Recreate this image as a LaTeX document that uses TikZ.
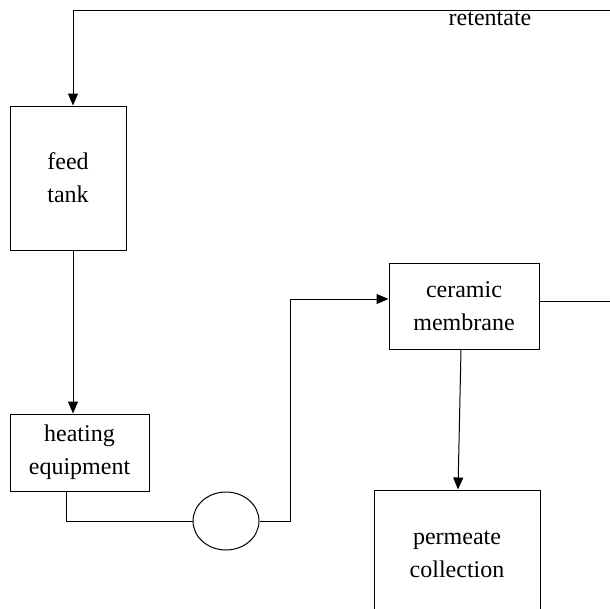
\documentclass[tikz,border=0pt]{standalone}
\usepackage{fontspec}
\setmainfont{Liberation Serif}
\usetikzlibrary{calc}
\usetikzlibrary{shapes.geometric}
\usetikzlibrary{arrows.meta}
\tikzset{unitbox/.style={shape=rectangle,draw=black,line width=1pt,align=center,inner sep=0,font=\fontsize{24}{33}\selectfont}}
\tikzset{flow/.style={line width=1pt,-{Triangle[length=12pt,width=10pt]}}}
\tikzset{pipe/.style={line width=1pt}}

\begin{document}
\begin{tikzpicture}[x=1pt,y=-1pt]

	\useasboundingbox (0,0) rectangle (610,608);
	\clip (0,0) rectangle (610,608);

\node[unitbox, minimum width=116pt, minimum height=144pt] (tank) at (68,178) {feed\\tank};

\node[unitbox, minimum width=139pt, minimum height=77pt] (heater) at (79.5,452.5) {heating\\equipment};

\node[shape=ellipse,draw=black,line width=1pt,inner sep=0,minimum width=66pt,minimum height=58pt] (pump) at (226,521) {};

\node[unitbox, minimum width=150pt, minimum height=86pt] (membrane) at (464,306) {ceramic\\membrane};

\node[unitbox, minimum width=166pt, minimum height=128pt] (permeate) at (457,554) {permeate\\collection};

\node[font=\fontsize{24}{33}\selectfont, inner sep=0] (retlabel) at (490,19) {retentate};

	% retentate loop back to the feed tank
	\draw [flow] ([yshift=5pt]membrane.east) -- (625,301) -- (625,10) -| ([xshift=5pt]tank.north);

	\draw [flow] ([xshift=5pt]tank.south) -- ([xshift=5pt]tank.south |- heater.north);

	\draw [pipe] ([xshift=-13.5pt]heater.south) |- (pump.west);

	\draw [flow] (pump.east) -- ++(31,0) |- ([yshift=7pt]membrane.west);

	\draw [flow] ([xshift=-3pt]membrane.south) -- ([xshift=1pt]permeate.north);

\end{tikzpicture}
\end{document}
